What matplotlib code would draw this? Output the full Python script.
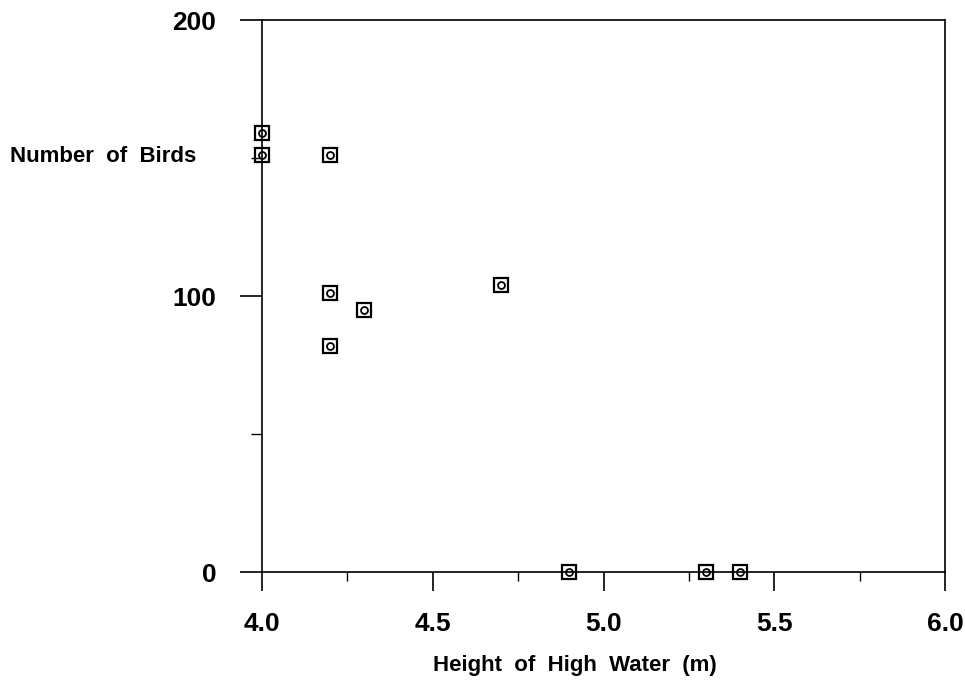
import numpy as np
import matplotlib
matplotlib.use("Agg")
import matplotlib.pyplot as plt
from matplotlib.ticker import MultipleLocator

# data
water_height = [4.0, 4.0, 4.2, 4.2, 4.3, 4.2, 4.7, 4.9, 5.3, 5.4]
n_birds = [159, 151, 151, 101, 95, 82, 104, 0, 0, 0]

x_ticks = [4.0, 4.5, 5.0, 5.5, 6.0]
x_ticklabels = ["4.0", "4.5", "5.0", "5.5", "6.0"]
y_ticks = [0, 100, 200]
y_ticklabels = ["0", "100", "200"]

font = ["Liberation Sans Narrow", "Liberation Sans", "DejaVu Sans"]
plt.rcParams["font.family"] = font
plt.rcParams["font.weight"] = "bold"

fig = plt.figure(figsize=(9.65, 6.86), dpi=100)
ax = fig.add_axes([262 / 965, 1 - 572 / 686, (945 - 262) / 965, (572 - 20) / 686])

# square with a small ring inside
ax.plot(water_height, n_birds, linestyle="none", marker="s", markersize=10,
        markerfacecolor="none", markeredgecolor="black", markeredgewidth=1.6,
        clip_on=False, zorder=3)
ax.plot(water_height, n_birds, linestyle="none", marker="o", markersize=5,
        markerfacecolor="none", markeredgecolor="black", markeredgewidth=1.3,
        clip_on=False, zorder=3)

ax.set_xlim(4.0, 6.0)
ax.set_ylim(0, 200)
ax.set_xticks(x_ticks)
ax.set_xticklabels(x_ticklabels)
ax.set_yticks(y_ticks)
ax.set_yticklabels(y_ticklabels)
ax.xaxis.set_minor_locator(MultipleLocator(0.25))
ax.yaxis.set_minor_locator(MultipleLocator(50))

for s in ax.spines.values():
    s.set_linewidth(1.2)

ax.tick_params(axis="x", which="major", direction="out", length=14, width=1.2,
               pad=15, labelsize=19)
ax.tick_params(axis="x", which="minor", direction="out", length=6.5, width=1.0)
ax.tick_params(axis="y", which="major", direction="out", length=16, width=1.2,
               pad=17, labelsize=19)
ax.tick_params(axis="y", which="minor", direction="out", length=8, width=1.0)

fig.text(10 / 965, 1 - 157 / 686, "Number  of  Birds", fontsize=16,
         fontweight="bold", ha="left", va="center")
fig.text(575 / 965, 1 - 665 / 686, "Height  of  High  Water  (m)", fontsize=16,
         fontweight="bold", ha="center", va="center")

fig.savefig("out.png", dpi=100)
